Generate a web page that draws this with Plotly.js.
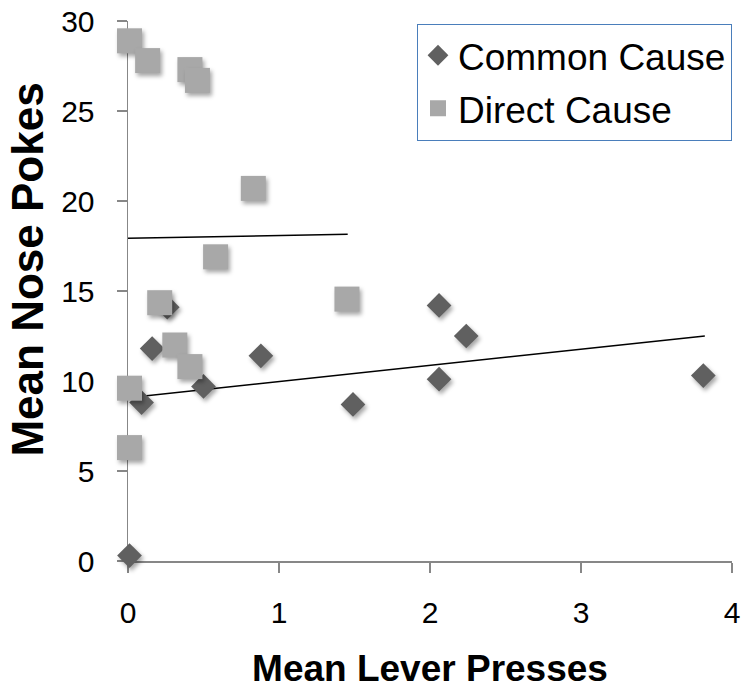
<!DOCTYPE html>
<html>
<head>
<meta charset="utf-8">
<script src="https://cdn.plot.ly/plotly-3.0.1.min.js"></script>
<style>
  html, body { margin: 0; padding: 0; background: #fff; }
  #chart { width: 743px; height: 694px; }
  /* soft drop shadow under the markers */
  .scatterlayer .trace .points path {
    filter: drop-shadow(2px 3px 2px rgba(0,0,0,0.35));
  }
</style>
</head>
<body>
<div id="chart"></div>
<script>
// Common Cause group: mean lever presses vs mean nose pokes
const commonLever = [0.01, 0.09, 0.16, 0.26, 0.50, 0.88, 1.49, 2.06, 2.24, 2.06, 3.81];
const commonPokes = [0.3, 8.8, 11.8, 14.1, 9.7, 11.4, 8.7, 14.2, 12.5, 10.1, 10.3];

// Direct Cause group
const directLever = [0.01, 0.13, 0.41, 0.46, 0.83, 0.58, 0.21, 0.31, 0.41, 0.01, 0.01, 1.45];
const directPokes = [28.9, 27.8, 27.3, 26.7, 20.7, 16.9, 14.35, 12.0, 10.8, 9.6, 6.3, 14.55];

// Linear trend line end points for each group
const commonTrendX = [0, 3.82];
const commonTrendY = [9.07, 12.5];
const directTrendX = [0, 1.455];
const directTrendY = [17.93, 18.15];

const xTicks = [0, 1, 2, 3, 4];
const yTicks = [0, 5, 10, 15, 20, 25, 30];

const FONT = 'Liberation Sans, Arial, sans-serif';

const traces = [
  {
    x: commonTrendX, y: commonTrendY, mode: 'lines', type: 'scatter',
    line: { color: '#000', width: 1.5 }, showlegend: false, hoverinfo: 'skip'
  },
  {
    x: directTrendX, y: directTrendY, mode: 'lines', type: 'scatter',
    line: { color: '#000', width: 1.5 }, showlegend: false, hoverinfo: 'skip'
  },
  {
    x: commonLever, y: commonPokes, mode: 'markers', type: 'scatter',
    name: 'Common Cause', cliponaxis: false, legendgroup: 'a',
    marker: { symbol: 'diamond', size: 19, color: '#606060', line: { width: 0 } }
  },
  {
    x: directLever, y: directPokes, mode: 'markers', type: 'scatter',
    name: 'Direct Cause', cliponaxis: false, legendgroup: 'b',
    marker: { symbol: 'square', size: 25, color: '#a8a8a8', line: { width: 0 } }
  }
];

const layout = {
  width: 743, height: 694,
  margin: { l: 128, r: 11, t: 21, b: 133 },
  paper_bgcolor: '#fff', plot_bgcolor: '#fff',
  font: { family: FONT, color: '#000' },
  showlegend: true,
  legend: {
    x: 1, xanchor: 'right', y: 0.995, yanchor: 'top',
    bordercolor: '#4a7ebb', borderwidth: 1, bgcolor: '#fff',
    font: { family: FONT, size: 37, color: '#000' },
    traceorder: 'grouped', tracegroupgap: 2
  },
  xaxis: {
    range: [0, 4], tickvals: xTicks, ticktext: xTicks.map(String),
    showgrid: false, zeroline: false, showline: true,
    linecolor: '#878787', linewidth: 1.5,
    ticks: 'outside', ticklen: 10, tickcolor: '#878787', tickwidth: 1.5,
    tickfont: { family: FONT, size: 30, color: '#000' },
    ticklabelstandoff: 14,
    layer: 'below traces', automargin: false,
    title: { text: 'Mean Lever Presses', font: { family: FONT, size: 37, color: '#000', weight: 'bold' }, standoff: 27 }
  },
  yaxis: {
    range: [0, 30], tickvals: yTicks, ticktext: yTicks.map(String),
    showgrid: false, zeroline: false, showline: true,
    linecolor: '#878787', linewidth: 1.5,
    ticks: 'outside', ticklen: 10, tickcolor: '#878787', tickwidth: 1.5,
    tickfont: { family: FONT, size: 30, color: '#000' },
    ticklabelstandoff: 16,
    layer: 'below traces', automargin: false
  },
  annotations: [{
    // y-axis title, set a little above the plot's vertical centre
    text: '<b>Mean Nose Pokes</b>', textangle: -90, showarrow: false,
    xref: 'paper', yref: 'paper', x: -0.167, y: 0.54,
    xanchor: 'center', yanchor: 'middle',
    font: { family: FONT, size: 44, color: '#000' }
  }]
};

Plotly.newPlot('chart', traces, layout, { displayModeBar: false, staticPlot: true });
</script>
</body>
</html>
